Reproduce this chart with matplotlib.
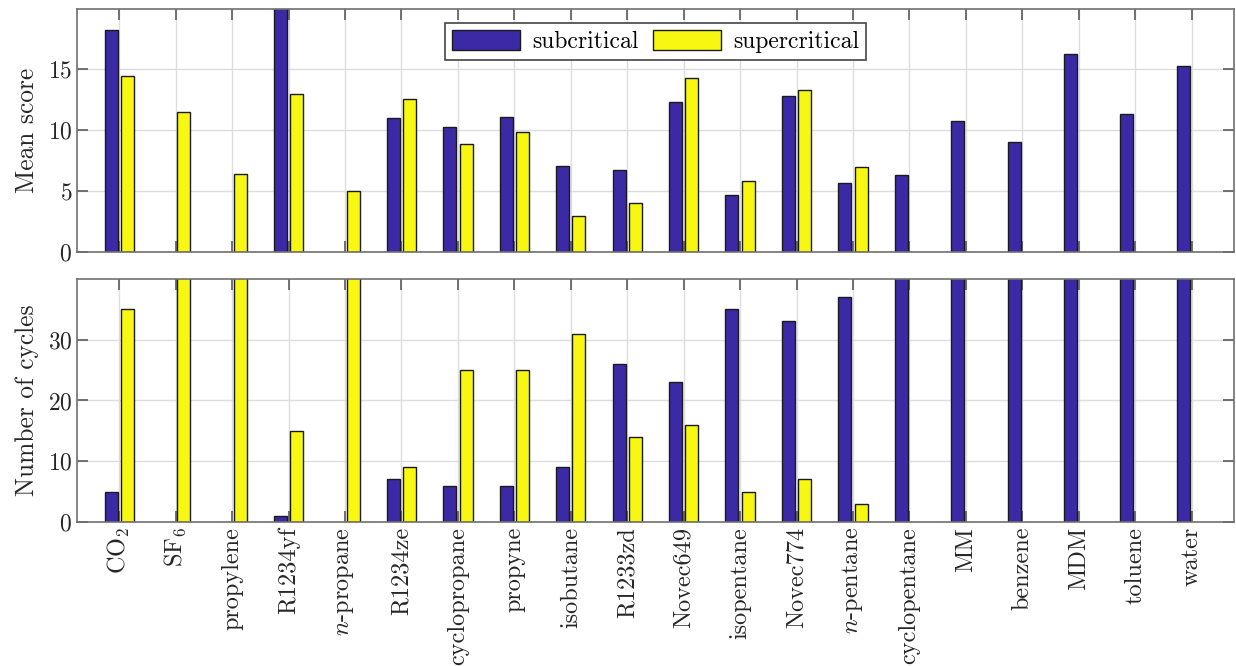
import numpy as np
import matplotlib

matplotlib.use("Agg")
import matplotlib.pyplot as plt

plt.rcParams["font.family"] = "serif"
plt.rcParams["font.serif"] = ["cmr10"]
plt.rcParams["mathtext.fontset"] = "cm"
plt.rcParams["axes.unicode_minus"] = False
plt.rcParams["axes.formatter.use_mathtext"] = True

fluids = [
    "CO$_2$", "SF$_6$", "propylene", "R1234yf", "$n$-propane", "R1234ze",
    "cyclopropane", "propyne", "isobutane", "R1233zd", "Novec649",
    "isopentane", "Novec774", "$n$-pentane", "cyclopentane", "MM",
    "benzene", "MDM", "toluene", "water",
]
nan = np.nan

# mean score per fluid (nan = no cycle of that kind)
score_sub = [18.2, nan, nan, 21.0, nan, 11.0, 10.3, 11.1, 7.1, 6.7, 12.3,
             4.7, 12.8, 5.7, 6.3, 10.8, 9.05, 16.3, 11.3, 15.3]
score_super = [14.5, 11.5, 6.4, 12.95, 5.05, 12.55, 8.85, 9.9, 2.95, 4.0,
               14.3, 5.8, 13.3, 7.0, nan, nan, nan, nan, nan, nan]

# number of cycles per fluid
cycles_sub = [5, nan, nan, 1, nan, 7, 6, 6, 9, 26, 23, 35, 33, 37,
              50, 50, 50, 50, 50, 50]
cycles_super = [35, 50, 50, 15, 50, 9, 25, 25, 31, 14, 16, 5, 7, 3,
                nan, nan, nan, nan, nan, nan]

c_sub = "#3b29a6"
c_super = "#f7f711"
spine_grey = "#707070"
text_grey = "#262626"

fig = plt.figure(figsize=(12.36, 6.66), dpi=100)
ax1 = fig.add_axes([0.0623, 0.6216, 0.936, 0.365])
ax2 = fig.add_axes([0.0623, 0.2162, 0.936, 0.365])

x = np.arange(1, len(fluids) + 1)
off = 0.145
w = 0.23


def style(ax, ylim, yticks):
    ax.set_xlim(0.25, 20.75)
    ax.set_ylim(*ylim)
    ax.set_yticks(yticks)
    ax.set_xticks(x)
    ax.grid(True, color="#dddddd", linewidth=1.0)
    ax.set_axisbelow(True)
    ax.tick_params(direction="in", length=8, width=1.4, color=spine_grey,
                   labelcolor=text_grey, labelsize=17, top=True, right=True)
    for s in ax.spines.values():
        s.set_color(spine_grey)
        s.set_linewidth(1.2)


for ax, sub, sup in ((ax1, score_sub, score_super),
                     (ax2, cycles_sub, cycles_super)):
    ax.bar(x - off, sub, w, color=c_sub, edgecolor="#1a1a1a", linewidth=1.0,
           label="subcritical", zorder=2)
    ax.bar(x + off, sup, w, color=c_super, edgecolor="#1a1a1a", linewidth=1.0,
           label="supercritical", zorder=2)

style(ax1, (0, 19.97), [0, 5, 10, 15])
style(ax2, (0, 40), [0, 10, 20, 30])

ax1.set_xticklabels([])
ax2.set_xticklabels(fluids, rotation=90, fontsize=17.5)
ax1.set_ylabel("Mean score", fontsize=18.3, color=text_grey, labelpad=6)
ax2.set_ylabel("Number of cycles", fontsize=18.3, color=text_grey, labelpad=6)

leg = ax1.legend(loc="upper center", bbox_to_anchor=(0.5, 1 - 14 / 243),
                 ncol=2, fontsize=17, fancybox=False, framealpha=1,
                 edgecolor="#444444", borderaxespad=0, handlelength=2.9,
                 handleheight=0.9, columnspacing=0.6, handletextpad=0.5,
                 borderpad=0.3)
leg.get_frame().set_linewidth(1.2)

fig.savefig("out.png", dpi=100)
